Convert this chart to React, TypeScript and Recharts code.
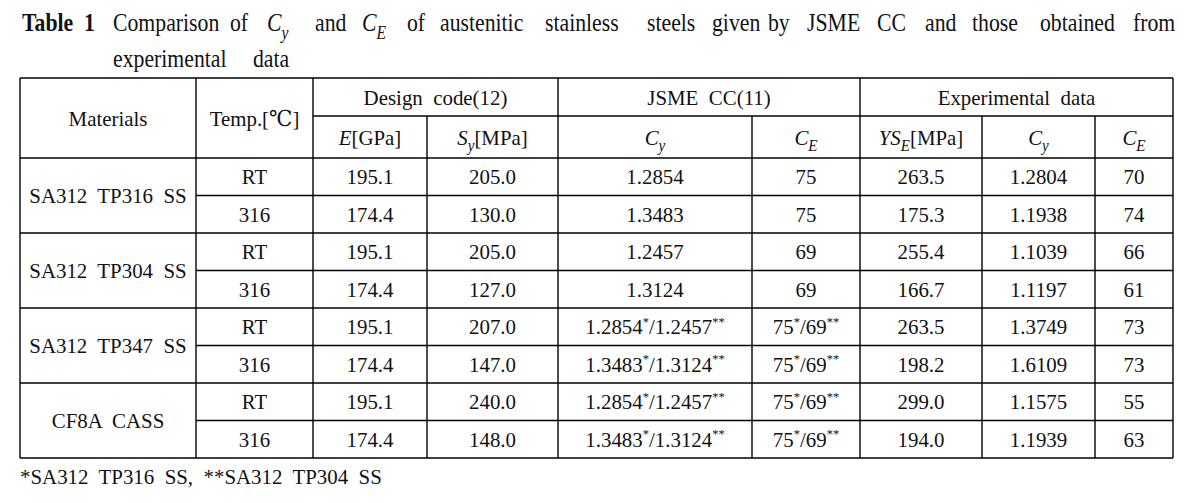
import React from "react";
import { ScatterChart, Scatter, XAxis, YAxis, ReferenceLine } from "recharts";

const W = 1185;
const H = 503;
const FONT = "Liberation Serif, DejaVu Serif, serif";

// ---- table content ----
const materials = ["SA312  TP316  SS", "SA312  TP304  SS", "SA312  TP347  SS", "CF8A  CASS"];
const temps = ["RT", "316", "RT", "316", "RT", "316", "RT", "316"];
const elasticModulus = [195.1, 174.4, 195.1, 174.4, 195.1, 174.4, 195.1, 174.4];
const yieldStrength = [205.0, 130.0, 205.0, 127.0, 207.0, 147.0, 240.0, 148.0];
const jsmeCy = [
  "1.2854",
  "1.3483",
  "1.2457",
  "1.3124",
  "1.2854^*/1.2457^**",
  "1.3483^*/1.3124^**",
  "1.2854^*/1.2457^**",
  "1.3483^*/1.3124^**",
];
const jsmeCe = ["75", "75", "69", "69", "75^*/69^**", "75^*/69^**", "75^*/69^**", "75^*/69^**"];
const expYs = [263.5, 175.3, 255.4, 166.7, 263.5, 198.2, 299.0, 194.0];
const expCy = ["1.2804", "1.1938", "1.1039", "1.1197", "1.3749", "1.6109", "1.1575", "1.1939"];
const expCe = [70, 74, 66, 61, 73, 73, 55, 63];

const spanHeaders = ["Materials", "Temp.[℃]"];
const groupHeaders = [
  { text: "Design  code(12)", from: 2, to: 3 },
  { text: "JSME  CC(11)", from: 4, to: 5 },
  { text: "Experimental  data", from: 6, to: 8 },
];
const subHeaders = ["~E~[GPa]", "~S~_y[MPa]", "~C~_y", "~C~_E", "~YS~_E[MPa]", "~C~_y", "~C~_E"];

const titleWords = [
  "**Table  1**", "Comparison", "of", "~C~_y", "and", "~C~_E", "of", "austenitic", "stainless",
  "steels", "given", "by", "JSME", "CC", "and", "those", "obtained", "from",
];
const titleLine2 = ["experimental", "data"];
const footnote = "*SA312  TP316  SS,  **SA312  TP304  SS";

// ---- layout ----
const colEdges = [20, 196, 313, 427, 558, 752, 860, 982, 1095, 1173];
const topY = 78;
const midY = 116;
const headY = 158;
const rowH = 37.5;
const titleX = [22, 113, 230, 267, 315, 362, 407, 440, 545, 647, 712, 768, 807, 877, 925, 972, 1040, 1133];
const line2X = [113, 253];

const cx = (a: number, b: number = a) => (colEdges[a] + colEdges[b + 1]) / 2;
const rowMid = (i: number) => headY + rowH * (i + 0.5);
const rowLine = (i: number) => headY + rowH * i;

type Part = { t: string; italic?: boolean; bold?: boolean; sub?: boolean; sup?: boolean };

function parse(s: string): Part[] {
  const out: Part[] = [];
  const re = /\*\*([^*]+)\*\*|~([^~]+)~|_(\w)|\^(\*+)|([^~_^]+)/g;
  let m: RegExpExecArray | null;
  while ((m = re.exec(s))) {
    if (m[1] && s.startsWith("**T", m.index)) out.push({ t: m[1], bold: true });
    else if (m[1]) out.push({ t: "**" + m[1] + "**" });
    else if (m[2]) out.push({ t: m[2], italic: true });
    else if (m[3]) out.push({ t: m[3], italic: true, sub: true });
    else if (m[4]) out.push({ t: m[4], sup: true });
    else if (m[5]) out.push({ t: m[5] });
  }
  return out;
}

function RichText({
  x,
  y,
  text,
  size,
  anchor = "middle",
  sx = 1,
}: {
  x: number;
  y: number;
  text: string;
  size: number;
  anchor?: "middle" | "start";
  sx?: number;
}) {
  let shift = 0;
  const parts = parse(text);
  return (
    <text
      x={0}
      y={0}
      transform={`translate(${x},${y}) scale(${sx},1)`}
      textAnchor={anchor}
      fill="#111"
      style={{ whiteSpace: "pre", fontFamily: FONT, fontSize: size }}
    >
      {parts.map((p, i) => {
        const target = p.sub ? size * 0.3 : p.sup ? -size * 0.38 : 0;
        const dy = target - shift;
        shift = target;
        return (
          <tspan
            key={i}
            dy={dy}
            style={{
              fontStyle: p.italic ? "italic" : "normal",
              fontWeight: p.bold ? "bold" : "normal",
              fontSize: p.sub ? size * 0.72 : p.sup ? size * 0.6 : size,
              fontFamily: FONT,
            }}
          >
            {p.t}
          </tspan>
        );
      })}
    </text>
  );
}

// ---- cells ----
type Cell = { x: number; y: number; text: string };
const cells: Cell[] = [];
spanHeaders.forEach((t, c) => cells.push({ x: cx(c), y: (topY + headY) / 2, text: t }));
groupHeaders.forEach((g) => cells.push({ x: cx(g.from, g.to), y: (topY + midY) / 2, text: g.text }));
subHeaders.forEach((t, i) => cells.push({ x: cx(i + 2), y: (midY + headY) / 2, text: t }));
materials.forEach((t, i) => cells.push({ x: cx(0), y: headY + rowH * (2 * i + 1), text: t }));
const columns: string[][] = [
  temps,
  elasticModulus.map((v) => v.toFixed(1)),
  yieldStrength.map((v) => v.toFixed(1)),
  jsmeCy,
  jsmeCe,
  expYs.map((v) => v.toFixed(1)),
  expCy,
  expCe.map(String),
];
columns.forEach((col, c) => col.forEach((t, r) => cells.push({ x: cx(c + 1), y: rowMid(r), text: t })));

// ---- rules ----
type Seg = [number, number, number, number];
const segs: Seg[] = [];
const L = colEdges[0];
const R = colEdges[colEdges.length - 1];
segs.push([L, topY, R, topY]);
segs.push([colEdges[2], midY, R, midY]);
segs.push([L, headY, R, headY]);
for (let i = 1; i <= 8; i++) {
  segs.push([i % 2 === 0 ? L : colEdges[1], rowLine(i), R, rowLine(i)]);
}
const bottomY = rowLine(8);
colEdges.forEach((x, i) => {
  const fromMid = [3, 5, 7, 8].includes(i);
  segs.push([x, fromMid ? midY : topY, x, bottomY]);
});

const CellShape = (props: any) => (
  <RichText x={props.cx} y={props.cy + 7.5} text={props.payload.text} size={22} sx={0.95} />
);

export default function App() {
  return (
    <div style={{ position: "absolute", left: 0, top: 0, width: W, height: H, background: "#fff" }}>
      <ScatterChart width={W} height={H} margin={{ top: 0, right: 0, bottom: 0, left: 0 }}>
        <XAxis type="number" dataKey="x" domain={[0, W]} hide />
        <YAxis type="number" dataKey="y" domain={[0, H]} reversed hide />
        {segs.map((s, i) => (
          <ReferenceLine
            key={i}
            segment={[
              { x: s[0], y: s[1] },
              { x: s[2], y: s[3] },
            ]}
            stroke="#000"
            strokeWidth={1.4}
            ifOverflow="visible"
          />
        ))}
        <Scatter data={cells} shape={CellShape} isAnimationActive={false} />
      </ScatterChart>
      <svg
        width={W}
        height={H}
        style={{ position: "absolute", left: 0, top: 0, pointerEvents: "none" }}
      >
        {titleWords.map((w, i) => (
          <RichText key={i} x={titleX[i]} y={31} text={w} size={25} anchor="start" sx={0.87} />
        ))}
        {titleLine2.map((w, i) => (
          <RichText key={i} x={line2X[i]} y={67} text={w} size={25} anchor="start" sx={0.87} />
        ))}
        <RichText x={20} y={484} text={footnote} size={22} anchor="start" sx={0.95} />
      </svg>
    </div>
  );
}
